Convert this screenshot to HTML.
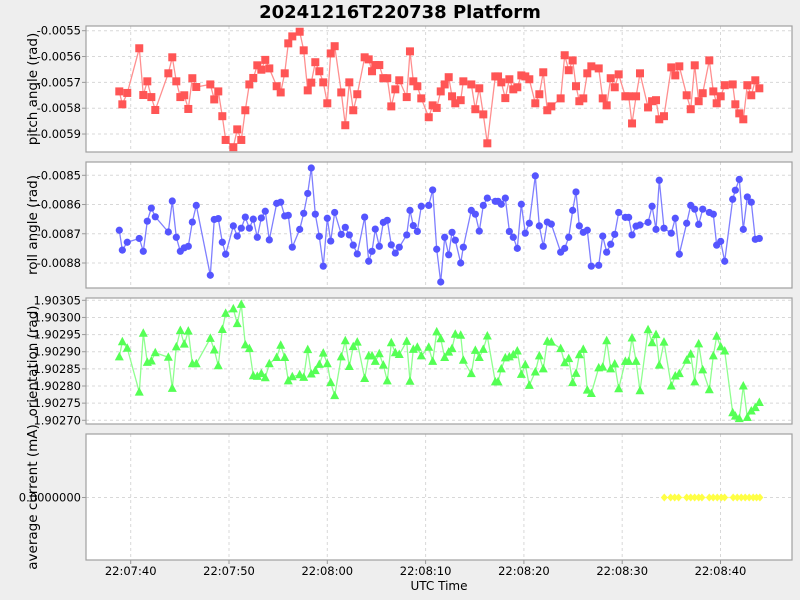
<!DOCTYPE html>
<html><head><meta charset="utf-8"><style>
html,body{margin:0;padding:0;background:#eeeeee;}
svg{display:block;font-family:"DejaVu Sans","Liberation Sans",sans-serif;}
</style></head><body>
<svg id="chart" width="800" height="600" viewBox="0 0 800 600" xmlns="http://www.w3.org/2000/svg">
<rect x="0" y="0" width="800" height="600" fill="#eeeeee"/>
<text x="400" y="18" text-anchor="middle" font-size="18" font-weight="bold" fill="#000">20241216T220738 Platform</text>
<text x="439" y="590" text-anchor="middle" font-size="12" fill="#000">UTC Time</text>
</svg>
<script>
const times = [-1.16,-0.85,-0.35,0.87,1.28,1.69,2.10,2.50,3.83,4.23,4.64,5.05,5.45,5.86,6.27,6.67,8.10,8.50,8.91,9.32,9.66,10.44,10.84,11.25,11.66,12.07,12.47,12.88,13.29,13.69,14.10,14.85,15.26,15.67,16.03,16.44,17.19,17.60,18.01,18.37,18.78,19.19,19.59,20.00,20.35,20.75,21.42,21.83,22.24,22.64,23.05,23.80,24.21,24.55,24.88,25.29,25.70,26.10,26.51,26.92,27.32,28.08,28.41,28.75,29.16,29.56,30.32,30.72,31.13,31.54,31.94,32.35,32.69,33.02,33.57,33.84,34.65,35.06,35.46,35.87,36.28,37.09,37.37,37.70,38.11,38.52,38.92,39.33,39.74,40.14,40.55,41.16,41.57,41.97,42.38,42.79,43.74,44.15,44.56,44.96,45.30,45.64,46.04,46.45,46.86,47.61,48.02,48.42,48.83,49.24,49.64,50.32,50.66,51.00,51.41,51.81,52.63,53.04,53.44,53.77,54.25,54.99,55.40,55.81,56.56,56.97,57.38,57.78,58.19,58.86,59.27,59.61,60.02,60.43,61.24,61.51,61.91,62.32,62.73,63.13,63.54,63.95];
const pitchValues = [-0.005735,-0.005785,-0.005741,-0.005568,-0.005749,-0.005696,-0.005757,-0.005807,-0.005665,-0.005603,-0.005696,-0.005757,-0.005750,-0.005803,-0.005684,-0.005718,-0.005708,-0.005766,-0.005735,-0.005831,-0.005923,-0.005951,-0.005882,-0.005923,-0.005808,-0.005708,-0.005683,-0.005634,-0.005651,-0.005613,-0.005646,-0.005715,-0.005739,-0.005665,-0.005549,-0.005522,-0.005504,-0.005576,-0.005731,-0.005701,-0.005622,-0.005657,-0.005700,-0.005781,-0.005588,-0.005560,-0.005739,-0.005866,-0.005700,-0.005808,-0.005746,-0.005603,-0.005611,-0.005657,-0.005633,-0.005633,-0.005684,-0.005684,-0.005793,-0.005727,-0.005692,-0.005757,-0.005580,-0.005696,-0.005715,-0.005762,-0.005835,-0.005789,-0.005799,-0.005735,-0.005708,-0.005680,-0.005754,-0.005781,-0.005769,-0.005696,-0.005708,-0.005804,-0.005723,-0.005824,-0.005936,-0.005677,-0.005677,-0.005700,-0.005761,-0.005688,-0.005727,-0.005719,-0.005673,-0.005677,-0.005688,-0.005781,-0.005746,-0.005661,-0.005808,-0.005793,-0.005762,-0.005595,-0.005653,-0.005615,-0.005715,-0.005773,-0.005762,-0.005665,-0.005638,-0.005646,-0.005762,-0.005789,-0.005684,-0.005719,-0.005669,-0.005754,-0.005754,-0.005859,-0.005754,-0.005665,-0.005797,-0.005773,-0.005769,-0.005843,-0.005831,-0.005642,-0.005673,-0.005638,-0.005750,-0.005804,-0.005634,-0.005773,-0.005742,-0.005615,-0.005735,-0.005781,-0.005754,-0.005711,-0.005708,-0.005785,-0.005820,-0.005843,-0.005711,-0.005750,-0.005692,-0.005723];
const rollValues = [-0.008688,-0.008756,-0.008729,-0.008716,-0.008760,-0.008657,-0.008612,-0.008642,-0.008694,-0.008588,-0.008712,-0.008760,-0.008748,-0.008743,-0.008660,-0.008603,-0.008842,-0.008651,-0.008648,-0.008729,-0.008770,-0.008673,-0.008708,-0.008681,-0.008643,-0.008681,-0.008650,-0.008712,-0.008646,-0.008623,-0.008721,-0.008596,-0.008592,-0.008639,-0.008637,-0.008746,-0.008685,-0.008630,-0.008562,-0.008475,-0.008633,-0.008709,-0.008811,-0.008647,-0.008725,-0.008627,-0.008702,-0.008678,-0.008704,-0.008739,-0.008769,-0.008643,-0.008794,-0.008760,-0.008684,-0.008743,-0.008661,-0.008654,-0.008738,-0.008766,-0.008746,-0.008704,-0.008620,-0.008672,-0.008692,-0.008606,-0.008603,-0.008550,-0.008753,-0.008865,-0.008712,-0.008772,-0.008695,-0.008722,-0.008800,-0.008746,-0.008620,-0.008633,-0.008691,-0.008603,-0.008578,-0.008589,-0.008589,-0.008599,-0.008578,-0.008692,-0.008712,-0.008750,-0.008599,-0.008698,-0.008664,-0.008502,-0.008673,-0.008743,-0.008660,-0.008667,-0.008763,-0.008750,-0.008712,-0.008620,-0.008557,-0.008673,-0.008695,-0.008688,-0.008811,-0.008808,-0.008708,-0.008763,-0.008736,-0.008702,-0.008627,-0.008644,-0.008644,-0.008704,-0.008674,-0.008670,-0.008661,-0.008606,-0.008685,-0.008517,-0.008681,-0.008698,-0.008647,-0.008770,-0.008664,-0.008603,-0.008616,-0.008668,-0.008616,-0.008627,-0.008633,-0.008739,-0.008726,-0.008794,-0.008582,-0.008551,-0.008514,-0.008685,-0.008574,-0.008592,-0.008719,-0.008716];
const orientValues = [1.902885,1.902929,1.902910,1.902782,1.902954,1.902869,1.902873,1.902897,1.902884,1.902793,1.902914,1.902962,1.902922,1.902960,1.902865,1.902865,1.902939,1.902905,1.902859,1.902965,1.903012,1.903025,1.902982,1.903038,1.902920,1.902909,1.902830,1.902828,1.902836,1.902824,1.902865,1.902883,1.902919,1.902883,1.902815,1.902827,1.902833,1.902825,1.902906,1.902835,1.902845,1.902863,1.902896,1.902865,1.902810,1.902772,1.902885,1.902932,1.902857,1.902915,1.902928,1.902822,1.902888,1.902888,1.902872,1.902894,1.902861,1.902815,1.902926,1.902897,1.902892,1.902930,1.902814,1.902907,1.902913,1.902888,1.902913,1.902872,1.902958,1.902938,1.902883,1.902899,1.902909,1.902951,1.902948,1.902875,1.902836,1.902904,1.902883,1.902907,1.902946,1.902812,1.902812,1.902850,1.902882,1.902885,1.902891,1.902902,1.902834,1.902862,1.902802,1.902841,1.902888,1.902850,1.902930,1.902928,1.902909,1.902868,1.902880,1.902810,1.902837,1.902891,1.902907,1.902788,1.902778,1.902853,1.902855,1.902932,1.902850,1.902864,1.902792,1.902872,1.902872,1.902940,1.902872,1.902786,1.902964,1.902926,1.902950,1.902861,1.902928,1.902800,1.902829,1.902836,1.902875,1.902893,1.902812,1.902923,1.902847,1.902789,1.902888,1.902945,1.902914,1.902902,1.902722,1.902712,1.902705,1.902800,1.902708,1.902727,1.902737,1.902752];
const currentTimes = [54.28,54.93,55.34,55.74,56.56,56.97,57.37,57.78,58.11,58.86,59.26,59.67,60.08,60.42,61.29,61.70,62.11,62.51,62.92,63.33,63.67,64.01];
const currentValues = [0,0,0,0,0,0,0,0,0,0,0,0,0,0,0,0,0,0,0,0,0,0];
const xTickSeconds = [0,10,20,30,40,50,60];
const xTickLabels = ["22:07:40","22:07:50","22:08:00","22:08:10","22:08:20","22:08:30","22:08:40"];
const pitchTicks = [-0.0055,-0.0056,-0.0057,-0.0058,-0.0059];
const pitchTickLabels = ["-0.0055","-0.0056","-0.0057","-0.0058","-0.0059"];
const rollTicks = [-0.0085,-0.0086,-0.0087,-0.0088];
const rollTickLabels = ["-0.0085","-0.0086","-0.0087","-0.0088"];
const orientTicks = [1.90305,1.90300,1.90295,1.90290,1.90285,1.90280,1.90275,1.90270];
const orientTickLabels = ["1.90305","1.90300","1.90295","1.90290","1.90285","1.90280","1.90275","1.90270"];
const currentTicks = [0];
const currentTickLabels = ["0.0000000"];

const NS = "http://www.w3.org/2000/svg";
const svg = document.getElementById("chart");
const PL = 86, PR = 792;
function xScale(t){ return 130.7 + 9.83 * t; }
function mk(tag, attrs, parent){
  const e = document.createElementNS(NS, tag);
  for (const k in attrs) e.setAttribute(k, attrs[k]);
  (parent || svg).appendChild(e);
  return e;
}
const panels = [
  {key:"pitch", top:26, bot:152, title:"pitch angle (rad)", ticks:pitchTicks, labels:pitchTickLabels,
   y:v=>30.7 + (-0.0055 - v)/0.0001*25.83, tx:times, vals:pitchValues, color:"#ff5555", line:"#ff8f8f", marker:"square"},
  {key:"roll", top:162, bot:288, title:"roll angle (rad)", ticks:rollTicks, labels:rollTickLabels,
   y:v=>175.3 + (-0.0085 - v)/0.0001*29.23, tx:times, vals:rollValues, color:"#5555ff", line:"#7f7fff", marker:"circle"},
  {key:"orientation", top:298, bot:424, title:"orientation (rad)", ticks:orientTicks, labels:orientTickLabels,
   y:v=>300.3 + (1.90305 - v)/0.00005*17.14, tx:times, vals:orientValues, color:"#55ff55", line:"#8fff8f", marker:"triangle"},
  {key:"current", top:434, bot:560, title:"average current (mA)", ticks:currentTicks, labels:currentTickLabels,
   y:v=>497.5 - v*60, tx:currentTimes, vals:currentValues, color:"#ffff44", line:"#ffff88", marker:"diamond"}
];
panels.forEach(p => {
  const g = mk("g", {});
  
  
  const bg = mk("rect", {x:PL, y:p.top, width:PR-PL, height:p.bot-p.top, fill:"#ffffff"}, g);
  
  
  xTickSeconds.forEach(s => {
    const gx = xScale(s);
    const gl = mk("line", {x1:gx, x2:gx, y1:p.top, y2:p.bot, stroke:"#d8d8d8", "stroke-dasharray":"3,3", "stroke-width":1}, g);
    
    
  });
  p.ticks.forEach((tv, i) => {
    const ty = p.y(tv);
    const gl = mk("line", {x1:PL, x2:PR, y1:ty, y2:ty, stroke:"#d8d8d8", "stroke-dasharray":"3,3", "stroke-width":1}, g);
    
    
    const tk = mk("line", {x1:PL-4, x2:PL, y1:ty, y2:ty, stroke:"#999", "stroke-width":1}, g);
    
    
    const tl = mk("text", {x:PL-5, y:ty+4, "text-anchor":"end", "font-size":"11.5", fill:"#000"}, g);
    tl.textContent = p.labels[i];
    
    
  });
  const cy = (p.top + p.bot)/2;
  const at = mk("text", {x:0, y:0, transform:`translate(37,${cy}) rotate(-90)`, "text-anchor":"middle", "font-size":"13.5", fill:"#000"}, g);
  at.textContent = p.title;
  
  
  const pts = p.tx.map((t,i) => [xScale(t), p.y(p.vals[i])]);
  const ln = mk("polyline", {points: pts.map(q => q[0].toFixed(1)+","+q[1].toFixed(1)).join(" "), fill:"none", stroke:p.line, "stroke-width":1.3}, g);
  
  
  pts.forEach(q => {
    const [x, y] = q;
    let m;
    if (p.marker === "square") m = mk("rect", {x:x-4, y:y-4, width:8, height:8, fill:p.color}, g);
    else if (p.marker === "circle") m = mk("circle", {cx:x, cy:y, r:3.6, fill:p.color}, g);
    else if (p.marker === "triangle") m = mk("polygon", {points:`${x},${y-5} ${x+4.5},${y+3.5} ${x-4.5},${y+3.5}`, fill:p.color}, g);
    else m = mk("polygon", {points:`${x},${y-4} ${x+3.5},${y} ${x},${y+4} ${x-3.5},${y}`, fill:p.color}, g);
    
    
  });
  const fr = mk("rect", {x:PL, y:p.top, width:PR-PL, height:p.bot-p.top, fill:"none", stroke:"#a0a0a0", "stroke-width":1.2}, g);
  
  
});
xTickSeconds.forEach((s, i) => {
  const gx = xScale(s);
  const tk = mk("line", {x1:gx, x2:gx, y1:560, y2:564, stroke:"#999", "stroke-width":1});
  
  
  const tl = mk("text", {x:gx, y:575, "text-anchor":"middle", "font-size":"11.5", fill:"#000"});
  tl.textContent = xTickLabels[i];
  
  
});
</script>
</body></html>
